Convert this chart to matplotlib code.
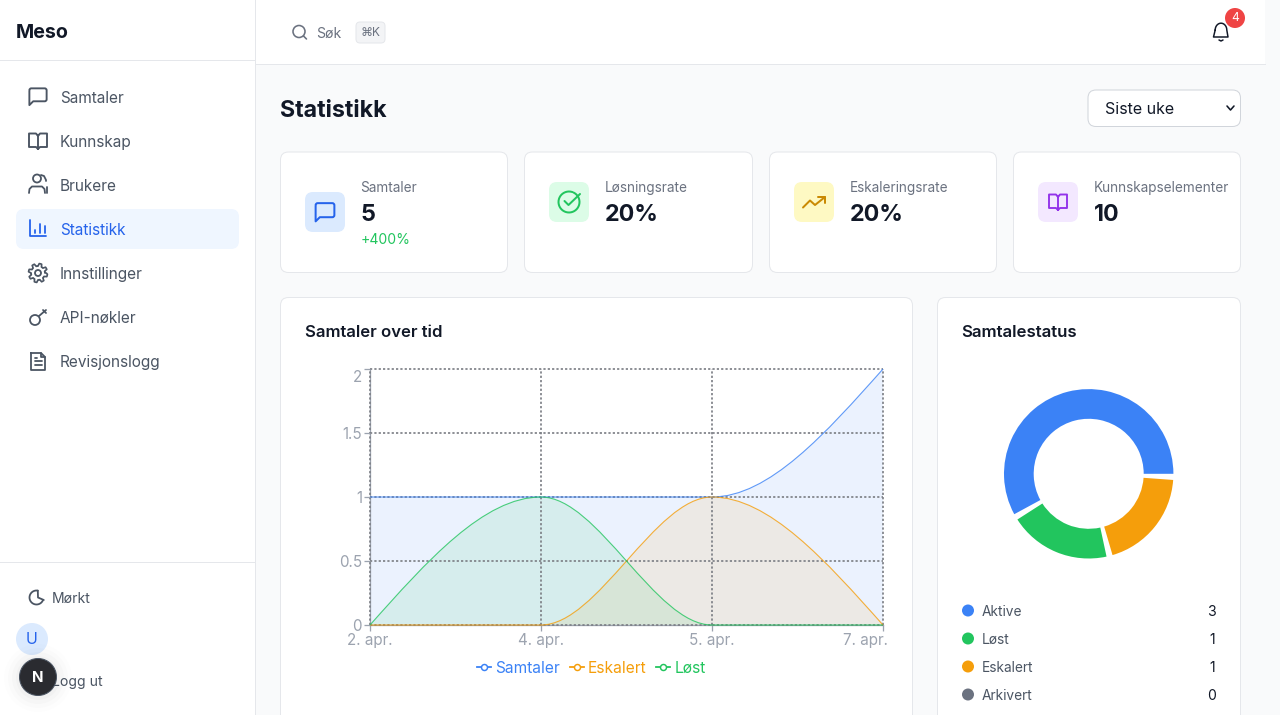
import matplotlib
matplotlib.use('Agg')
import matplotlib.pyplot as plt
from matplotlib.patches import FancyBboxPatch, Circle, Wedge, PathPatch, Rectangle
from matplotlib.path import Path
from matplotlib.lines import Line2D
from matplotlib.transforms import ScaledTranslation
import numpy as np

plt.rcParams['font.family'] = ['Inter', 'DejaVu Sans']

# ---- chart data ----
dates = ['2. apr.', '4. apr.', '5. apr.', '7. apr.']
samtaler = [1, 1, 1, 2]
eskalert = [0, 0, 1, 0]
lost = [0, 1, 0, 0]
y_ticks = [0, 0.5, 1, 1.5, 2]
y_tick_labels = ['0', '0.5', '1', '1.5', '2']
series_names = ['Samtaler', 'Eskalert', 'Løst']
series_colors = ['#3b82f6', '#f59e0b', '#22c55e']

status_names = ['Aktive', 'Løst', 'Eskalert', 'Arkivert']
status_values = [3, 1, 1, 0]
status_colors = ['#3b82f6', '#22c55e', '#f59e0b', '#6b7280']

nav_items = ['Samtaler', 'Kunnskap', 'Brukere', 'Statistikk', 'Innstillinger', 'API-nøkler', 'Revisjonslogg']
kpi_labels = ['Samtaler', 'Løsningsrate', 'Eskaleringsrate', 'Kunnskapselementer']
kpi_values = ['5', '20%', '20%', '10']

W, H = 1280, 715
fig = plt.figure(figsize=(W / 100, H / 100), dpi=100, facecolor='white')
ui = fig.add_axes([0, 0, 1, 1], zorder=0)
ui.set_xlim(0, W)
ui.set_ylim(H, 0)
ui.axis('off')

PX = 0.72
INK, NAV, MUTED = '#111827', '#4b5563', '#6b7280'
BORDER = '#e5e7eb'
PAGE = '#f9fafb'


def rrect(x0, y0, x1, y1, r, fc='white', ec='none', lw=1.0, z=2):
    ui.add_patch(FancyBboxPatch((x0 + r, y0 + r), x1 - x0 - 2 * r, y1 - y0 - 2 * r,
                                boxstyle=f'round,pad={r},rounding_size={r}',
                                fc=fc, ec=ec, lw=lw * PX, zorder=z))


def text(x, y, s, px=14, c=INK, w='normal', ha='left', z=6):
    ui.text(x, y + 0.1 * px, s, fontsize=px * PX, color=c, fontweight=w, ha=ha, va='center', zorder=z)


def line(xs, ys, c, lw=1.8, z=5):
    ui.plot(xs, ys, color=c, lw=lw * PX, solid_capstyle='round', solid_joinstyle='round', zorder=z)


def circ(x, y, r, fc='none', ec='none', lw=1.8, z=5):
    ui.add_patch(Circle((x, y), r, fc=fc, ec=ec, lw=lw * PX, zorder=z))


def chat(x, y, s, c, lw=1.9):
    # rounded speech bubble in a box of size s
    k = s / 24
    P = lambda a, b: (x + a * k, y + b * k)
    v = [P(3, 5.5), P(3, 3.5), P(5, 3.5), P(19, 3.5), P(21, 3.5), P(21, 5.5), P(21, 15), P(21, 17), P(19, 17),
         P(7, 17), P(3, 21), P(3, 5.5)]
    cd = [Path.MOVETO, Path.CURVE3, Path.CURVE3, Path.LINETO, Path.CURVE3, Path.CURVE3, Path.LINETO, Path.CURVE3,
          Path.CURVE3, Path.LINETO, Path.LINETO, Path.LINETO]
    ui.add_patch(PathPatch(Path(v, cd), fc='none', ec=c, lw=lw * PX, joinstyle='round', zorder=5))


def book(x, y, s, c):
    k = s / 24
    pts = [(12, 7), (10, 4.5), (3, 4.5), (3, 18), (10, 18), (12, 20), (14, 18), (21, 18),
           (21, 4.5), (14, 4.5), (12, 7), (12, 20)]
    line([x + p[0] * k for p in pts], [y + p[1] * k for p in pts], c, lw=1.9)


# backgrounds
ui.add_patch(Rectangle((255, 64), W - 255, H - 64, fc=PAGE, ec='none', zorder=1))
ui.add_patch(Rectangle((1265, 0), 15, 65, fc=PAGE, ec='none', zorder=1))
ui.plot([255, 255], [0, H], color=BORDER, lw=PX, zorder=3)
ui.plot([0, 255], [60, 60], color=BORDER, lw=PX, zorder=3)
ui.plot([0, 255], [562, 562], color=BORDER, lw=PX, zorder=3)
ui.plot([255, 1265], [64, 64], color=BORDER, lw=PX, zorder=3)

# sidebar
text(16, 31, 'Meso', 19.6, INK, 'bold')
rrect(16, 209, 239, 249, 8, fc='#eff6ff')
for i, name in enumerate(nav_items):
    yc = 97 + 44 * i
    active = name == 'Statistikk'
    text(60, yc, name, 15.4, '#2563eb' if active else NAV)
ic = NAV
chat(26.5, 85, 23, ic)
book(26, 129, 24, ic)
circ(37, 178.5, 4, ec=ic)
line(np.array([29, 29.5, 32, 42, 44.5, 45]), np.array([193, 189, 186.5, 186.5, 189, 193]), ic)
line([41, 44, 46, 46], [175, 176, 180, 181], ic)
line([47, 47], [187, 193], ic)
line([30, 30, 46], [220, 236, 236], '#2563eb')
for xb, y0b in zip([35, 40, 45], [230, 224, 226]):
    line([xb, xb], [y0b, 233], '#2563eb')
circ(38, 273, 3, ec=ic)
theta = np.linspace(0, 2 * np.pi, 49)
rad = 8.2 + 1.3 * np.sign(np.sin(theta * 8))
line(38 + rad * np.cos(theta), 273 + rad * np.sin(theta), ic, lw=1.7)
circ(35, 320, 5, ec=ic)
line([39, 46], [316, 310], ic)
line([43, 46], [310, 313], ic)
pts = [(31, 353), (41, 353), (45, 357), (45, 370), (31, 370), (31, 353)]
line([p[0] for p in pts], [p[1] for p in pts], ic)
line([41, 41, 45], [353, 357, 357], ic)
for yy in (361, 364.5):
    line([34.5, 41.5], [yy, yy], ic)
line([34.5, 37], [358, 358], ic)

moon_t = np.linspace(-0.6, 3.9, 30)
line(36.5 + 7 * np.cos(moon_t + 1.0), 597.5 + 7 * np.sin(moon_t + 1.0), ic)
line([36.5 + 7 * np.cos(4.9), 38, 43.8], [597.5 + 7 * np.sin(4.9), 597.5, 600], ic)
text(52, 597, 'Mørkt', 14, NAV)
circ(32, 639, 16, fc='#dbeafe')
text(32, 638, 'U', 16, '#2563eb', ha='center')
text(52, 681, 'Logg ut', 14, NAV)
for r, a in zip([34, 30, 26, 22], [0.008, 0.012, 0.014, 0.018]):
    circ(38, 678, r, fc=(0, 0, 0, a), z=6)
circ(38, 677, 18.5, fc='#2a2b30', ec='#4b5563', lw=1, z=7)
ui.text(38, 677.5, 'N', fontsize=15 * PX, color='white', ha='center', va='center', fontweight='bold', zorder=8)

# header
circ(299, 31.5, 6, ec=MUTED, lw=1.6)
line([303.5, 306.5], [36, 39], MUTED, 1.6)
text(316, 32, 'Søk', 14, MUTED)
rrect(356, 22, 385, 43, 4, fc='#f3f4f6', ec=BORDER)
text(370.5, 32, '⌘K', 12, MUTED, ha='center')
bell_t = np.linspace(np.pi, 2 * np.pi, 20)
bx = list(1221 + 5.8 * np.cos(bell_t)) + [1228, 1213.5, 1215.2]
by = list(30 + 6.8 * np.sin(bell_t)) + [37, 37, 30]
line(bx, by, INK, 1.5)
line([1219, 1221, 1223], [40, 41, 40], INK, 1.5)
circ(1235, 18, 10, fc='#ef4444')
text(1235, 17, '4', 12, 'white', ha='center')

# page title + select
text(280, 109, 'Statistikk', 23.2, INK, 'bold')
rrect(1088, 90, 1240.5, 126.5, 8, fc='white', ec='#d1d5db')
text(1105, 108, 'Siste uke', 16, INK)
line([1227, 1230.5, 1234], [106, 110, 106], INK, 1.6)

# KPI cards
card_x = [(280.5, 507.5), (524.5, 752.5), (769.5, 996.5), (1013.5, 1240.5)]
icon_bg = ['#dbeafe', '#dcfce7', '#fef9c3', '#f3e8ff']
icon_fg = ['#2563eb', '#22c55e', '#ca8a04', '#9333ea']
for i, (x0, x1) in enumerate(card_x):
    rrect(x0, 152, x1, 272.5, 8, fc='white', ec=BORDER)
    ix = x0 + 24.5
    iy = 192 if i == 0 else 182
    rrect(ix, iy, ix + 40, iy + 40, 8, fc=icon_bg[i])
    tx = ix + 55.5
    text(tx, 187, kpi_labels[i], 13.6, MUTED)
    text(tx, 213, kpi_values[i], 23.3, INK, 'bold')
text(361, 239, '+400%', 14, '#22c55e')
chat(312.5, 199.5, 25, icon_fg[0], lw=2)
t = np.linspace(-1.15, 5.0, 40)
line(569 + 10.5 * np.cos(t), 202 + 10.5 * np.sin(t), icon_fg[1], 2)
line([564.5, 568.5, 580], [201, 205, 194], icon_fg[1], 2)
line([803, 810, 815, 825], [207.5, 200.5, 205, 197], icon_fg[2], 2)
line([818, 825, 825], [197, 197, 203], icon_fg[2], 2)
book(1046, 190, 24, icon_fg[3])

# large cards
rrect(280.5, 297.5, 912.5, H + 30, 8, fc='white', ec=BORDER)
rrect(937.5, 297.5, 1240.5, H + 30, 8, fc='white', ec=BORDER)
text(305, 331, 'Samtaler over tid', 16.7, INK, 600)
text(961.5, 331, 'Samtalestatus', 16.8, INK, 600)


# ---- line chart ----
def axes_px(l, t, r, b, **kw):
    return fig.add_axes([l / W, 1 - b / H, (r - l) / W, (b - t) / H], **kw)


def monotone_path(xv, yv):
    """Cubic monotone curve through the points, as Bezier control polygon."""
    xv, yv = np.asarray(xv, float), np.asarray(yv, float)
    h = np.diff(xv)
    s = np.diff(yv) / h
    m = np.zeros(len(xv))
    for k in range(1, len(xv) - 1):
        if s[k - 1] * s[k] > 0:
            m[k] = min(abs(s[k - 1]), abs(s[k])) * np.sign(s[k])
    m[0] = (3 * s[0] - m[1]) / 2
    m[-1] = (3 * s[-1] - m[-2]) / 2
    verts, codes = [(xv[0], yv[0])], [Path.MOVETO]
    for k in range(len(h)):
        verts += [(xv[k] + h[k] / 3, yv[k] + m[k] * h[k] / 3),
                  (xv[k + 1] - h[k] / 3, yv[k + 1] - m[k + 1] * h[k] / 3),
                  (xv[k + 1], yv[k + 1])]
        codes += [Path.CURVE4] * 3
    return verts, codes


ax = axes_px(370, 369, 883, 625, zorder=2)
ax.patch.set_alpha(0)
xpos = np.arange(len(dates))
ax.set_xlim(xpos[0], xpos[-1])
ax.set_ylim(0, 2)

for vals, col in zip([samtaler, eskalert, lost], series_colors):
    v, c = monotone_path(xpos, vals)
    fill_v = v + [(xpos[-1], 0), (xpos[0], 0), v[0]]
    fill_c = c + [Path.LINETO, Path.LINETO, Path.CLOSEPOLY]
    ax.add_patch(PathPatch(Path(fill_v, fill_c), fc=col, alpha=0.1, ec='none', zorder=1))
    ax.add_patch(PathPatch(Path(v, c), fc='none', ec=col, lw=0.8, alpha=0.8, zorder=3, clip_on=False))

ax.set_xticks(xpos)
ax.set_xticklabels(dates)
ax.set_yticks(y_ticks)
ax.set_yticklabels(y_tick_labels)
ax.tick_params(axis='both', colors='#9ca3af', labelsize=15.2 * PX, length=6 * PX, width=1.3 * PX, pad=1.5)
ax.grid(True, color='#7c7f85', lw=1.7 * PX, linestyle=(0, (1.3, 1.25)), zorder=2.5)
for gl in ax.get_xgridlines() + ax.get_ygridlines():
    gl.set_clip_on(False)
ax.set_axisbelow(False)
for sp in ['top', 'right']:
    ax.spines[sp].set_visible(False)
for sp in ['left', 'bottom']:
    ax.spines[sp].set_color('#9ca3af')
    ax.spines[sp].set_linewidth(1.3 * PX)
    ax.spines[sp].set_zorder(2)
# the last labels on each axis sit inside the plot edge
last = ax.get_xticklabels()[-1]
last.set_horizontalalignment('right')
last.set_transform(last.get_transform() + ScaledTranslation(5 / 100, 0, fig.dpi_scale_trans))
top = ax.get_yticklabels()[-1]
top.set_transform(top.get_transform() + ScaledTranslation(0, -7 / 100, fig.dpi_scale_trans))

handles = [Line2D([], [], color=c, lw=1.8 * PX, marker='o', markersize=6 * PX, markerfacecolor='white',
                  markeredgecolor=c, markeredgewidth=1.5 * PX) for c in series_colors]
leg = ax.legend(handles, series_names, loc='center', bbox_to_anchor=(0.4315, -0.1695), ncol=3, frameon=False,
                fontsize=15.5 * PX, labelcolor='linecolor', handlelength=0.9, handletextpad=0.26,
                columnspacing=0.65, borderpad=0)

# ---- donut ----
dax = axes_px(993.7, 378.8, 1183.7, 568.8, zorder=2)
dax.set_xlim(-95, 95)
dax.set_ylim(-95, 95)
dax.axis('off')
pad = 4.17
shown = [v for v in status_values if v > 0]
sweep_total = 360 - pad * len(shown)
ang = 0.0
for v, c in zip(status_values, status_colors):
    if v <= 0:
        continue
    sw = v / sum(status_values) * sweep_total
    dax.add_patch(Wedge((0, 0), 84.7, ang, ang + sw, width=29.7, fc=c, ec='none'))
    ang += sw + pad

for i, (n, v, c) in enumerate(zip(status_names, status_values, status_colors)):
    yc = 611 + 28 * i
    circ(968, yc - 0.5, 6, fc=c)
    text(982, yc - 0.6, n, 13.7, NAV)
    text(1215.5, yc - 0.6, str(v), 14, INK, ha='right')

fig.savefig('out.png', dpi=100, facecolor='white')
